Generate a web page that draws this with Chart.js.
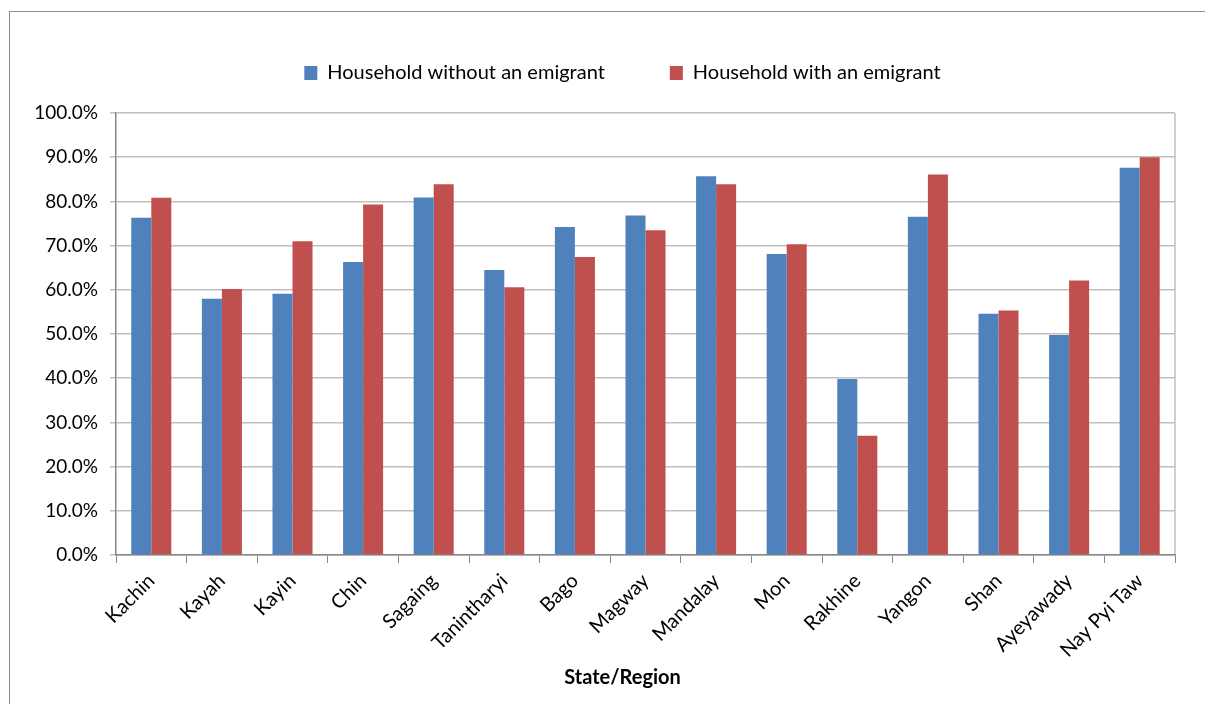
<!DOCTYPE html>
<html>
<head>
<meta charset="utf-8">
<script src="https://cdn.jsdelivr.net/npm/chart.js@4/dist/chart.umd.min.js"></script>
<style>
  html, body { margin: 0; padding: 0; background: #fff; }
  #wrap { position: relative; width: 1205px; height: 704px; }
</style>
</head>
<body>
<div id="wrap"><canvas id="emig"></canvas></div>
<script>
// share of households by state/region, with and without an emigrant (%)
var states = ["Kachin", "Kayah", "Kayin", "Chin", "Sagaing", "Tanintharyi", "Bago", "Magway",
              "Mandalay", "Mon", "Rakhine", "Yangon", "Shan", "Ayeyawady", "Nay Pyi Taw"];
var withoutEmig = [76.3, 58.0, 59.1, 66.3, 80.9, 64.5, 74.2, 76.8, 85.7, 68.1, 39.8, 76.5, 54.6, 49.8, 87.6];
var withEmig    = [80.8, 60.2, 71.0, 79.3, 83.9, 60.6, 67.4, 73.5, 83.9, 70.3, 27.0, 86.1, 55.3, 62.1, 90.0];
var yTicks = [0, 10, 20, 30, 40, 50, 60, 70, 80, 90, 100];

var fontFam = "Lato, 'DejaVu Sans', sans-serif";

// outer frame + right edge of the plot area
var frame = {
    id: 'frame',
    beforeDraw: function(chart) {
        var c = chart.ctx, a = chart.chartArea;
        c.save();
        c.strokeStyle = '#8e8e8e';
        c.lineWidth = 1;
        c.strokeRect(9.5, 11.5, 1300, 800);
        c.strokeStyle = '#bfbfbf';
        c.lineWidth = 1.5;
        c.beginPath();
        c.moveTo(a.right, a.top);
        c.lineTo(a.right, a.bottom);
        c.stroke();
        c.restore();
    }
};

// fixed legend height; legend and bottom title centred a bit right of the canvas middle
var legendHeight = {
    id: 'legendHeight',
    beforeInit: function(chart) {
        var lg = chart.legend;
        if (!lg) return;
        var fit = lg.fit;
        lg.fit = function() {
            fit.call(this);
            this.height = 115;
        };
    },
    afterLayout: function(chart) {
        [chart.legend, chart.titleBlock].forEach(function(b) {
            if (b) b.left += 70;
        });
    }
};

var ctx = document.getElementById('emig').getContext('2d');
var chart = new Chart(ctx, {
    type: 'bar',
    data: {
        labels: states,
        datasets: [{
            label: "Household without an emigrant",
            backgroundColor: '#4f81bd',
            data: withoutEmig
        }, {
            label: "Household with an emigrant",
            backgroundColor: '#c0504d',
            data: withEmig
        }]
    },
    options: {
        responsive: true,
        maintainAspectRatio: false,
        animation: false,
        layout: { padding: { left: 0, right: 30, top: -2, bottom: 0 } },
        datasets: { bar: { barPercentage: 1, categoryPercentage: 0.567 } },
        plugins: {
            legend: {
                position: 'top',
                labels: {
                    boxWidth: 13, boxHeight: 14, padding: 65,
                    color: '#000',
                    font: { family: fontFam, size: 20 }
                }
            },
            title: {
                display: true, position: 'bottom', text: 'State/Region', color: '#000',
                font: { family: fontFam, size: 20, weight: 'bold' },
                padding: { top: 0, bottom: 14 }
            },
            tooltip: { enabled: false }
        },
        scales: {
            x: {
                afterFit: function(s) { s.height = 111; },
                grid: { drawOnChartArea: false, drawTicks: true, tickLength: 8, color: '#868686', offset: true },
                border: { color: '#868686', width: 1.5 },
                ticks: {
                    autoSkip: false, maxRotation: 45, minRotation: 45, padding: 6,
                    color: '#000', font: { family: fontFam, size: 20 }
                }
            },
            y: {
                min: 0, max: 100,
                afterFit: function(s) { s.width = 116; },
                afterBuildTicks: function(s) { s.ticks = yTicks.map(function(v) { return { value: v }; }); },
                grid: { color: '#bfbfbf', lineWidth: 1.5, drawTicks: true, tickLength: 6 },
                border: { color: '#868686', width: 1.5 },
                ticks: {
                    padding: 12, color: '#000', font: { family: fontFam, size: 19 },
                    callback: function(v) { return v.toFixed(1) + '%'; }
                }
            }
        }
    },
    plugins: [frame, legendHeight]
});
</script>
</body>
</html>
